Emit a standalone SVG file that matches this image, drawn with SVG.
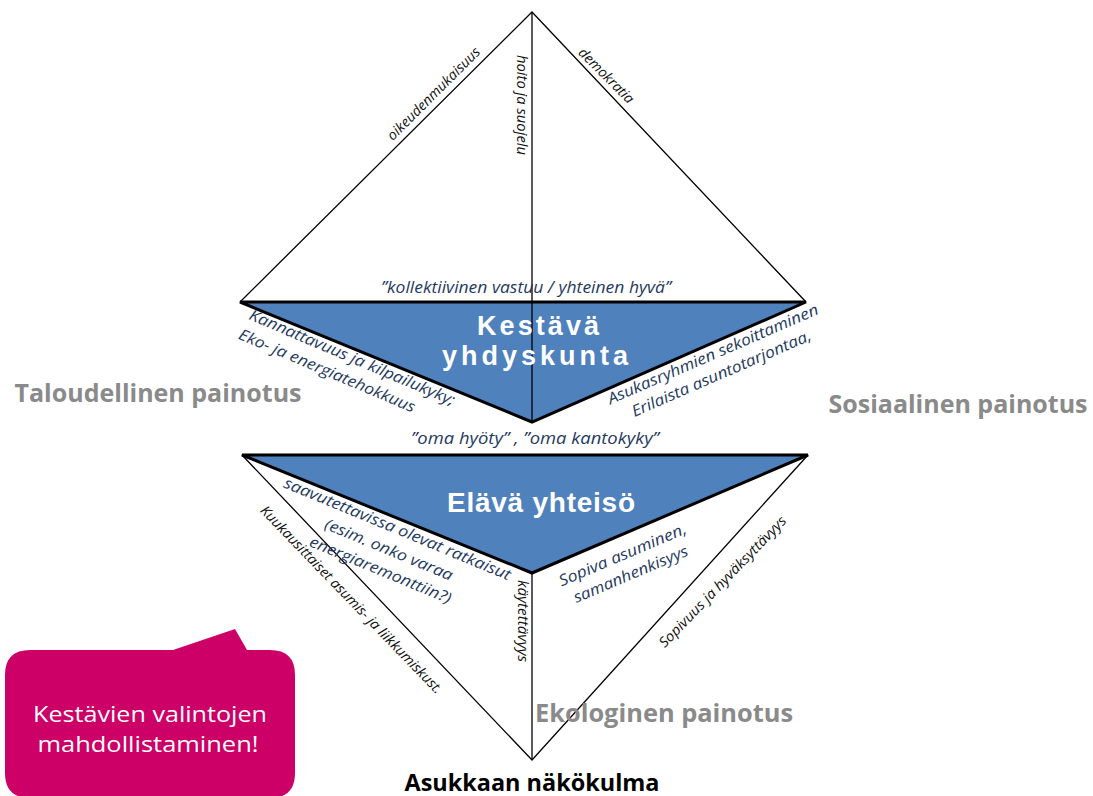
<svg xmlns="http://www.w3.org/2000/svg" width="1093" height="796" viewBox="0 0 1093 796">
<style>
.thin{stroke:#000;stroke-width:1.3;fill:none}
.tri{fill:#4F81BD;stroke:#000;stroke-width:3;stroke-linejoin:miter}
.lbl{font-family:"Open Sans","Noto Sans",sans-serif;font-style:italic;font-size:14px;fill:#111}
.blu{font-family:"Open Sans","Noto Sans",sans-serif;font-style:italic;font-size:15.5px;fill:#1F3A60}
.head{font-family:"Liberation Sans",Arial,sans-serif;font-weight:bold;fill:#fff;text-anchor:middle}
.gray{font-family:"Open Sans","Noto Sans",sans-serif;font-weight:bold;font-size:25px;fill:#8A8A8A;text-anchor:middle}
</style>
<rect width="1093" height="796" fill="#fff"/>
<g id="connectors">
<polyline class="thin" points="240,302 532,12 806,302"/>
<polyline class="thin" points="242,455 532,760 808,455"/>
</g>
<g id="upper-triangle">
<polygon class="tri" points="240,302 806,302 532,422"/>
</g>
<g id="lower-triangle">
<polygon class="tri" points="242,455 808,455 532,573"/>
</g>
<g id="axes">
<line class="thin" x1="532" y1="12" x2="532" y2="422"/>
<line class="thin" x1="532" y1="573" x2="532" y2="760"/>
</g>
<g id="top-labels">
<text class="lbl" text-anchor="middle" textLength="125" lengthAdjust="spacingAndGlyphs" transform="translate(437,97) rotate(-45)">oikeudenmukaisuus</text>
<text class="lbl" text-anchor="middle" textLength="100" lengthAdjust="spacingAndGlyphs" transform="translate(517,105) rotate(90)">hoito ja suojelu</text>
<text class="lbl" text-anchor="middle" textLength="72" lengthAdjust="spacingAndGlyphs" transform="translate(603,79) rotate(45)">demokratia</text>
<text class="blu" x="526" y="293" text-anchor="middle" textLength="290" lengthAdjust="spacingAndGlyphs">”kollektiivinen vastuu / yhteinen hyvä”</text>
</g>
<g id="kestava">
<text class="head" x="538" y="335" font-size="27" textLength="122" lengthAdjust="spacing">Kestävä</text>
<text class="head" x="535" y="365" font-size="27" textLength="186" lengthAdjust="spacing">yhdyskunta</text>
</g>
<g id="talous-labels" transform="translate(248,319) rotate(23)">
<text class="blu" x="0" y="0" textLength="222" lengthAdjust="spacingAndGlyphs">Kannattavuus ja kilpailukyky;</text>
<text class="blu" x="-2" y="22" textLength="190" lengthAdjust="spacingAndGlyphs">Eko- ja energiatehokkuus</text>
</g>
<g id="sosiaali-labels" transform="translate(715,359) rotate(-23.5)">
<text class="blu" x="0" y="0" text-anchor="middle" textLength="228" lengthAdjust="spacingAndGlyphs">Asukasryhmien sekoittaminen</text>
<text class="blu" x="0" y="21" text-anchor="middle" textLength="194" lengthAdjust="spacingAndGlyphs">Erilaista asuntotarjontaa,</text>
</g>
<g id="oma">
<text class="blu" x="535" y="444" text-anchor="middle" textLength="248" lengthAdjust="spacingAndGlyphs">”oma hyöty” , ”oma kantokyky”</text>
</g>
<g id="elava">
<text class="head" x="541" y="512" font-size="28" textLength="188" lengthAdjust="spacing">Elävä yhteisö</text>
</g>
<g id="saavutettavissa" transform="translate(395.5,533.7) rotate(22.5)">
<text class="blu" x="0" y="0" text-anchor="middle" textLength="244" lengthAdjust="spacingAndGlyphs">saavutettavissa olevat ratkaisut</text>
<text class="blu" x="0" y="22.5" text-anchor="middle" textLength="137" lengthAdjust="spacingAndGlyphs">(esim. onko varaa</text>
<text class="blu" x="0" y="44.5" text-anchor="middle" textLength="152" lengthAdjust="spacingAndGlyphs">energiaremonttiin?)</text>
</g>
<g id="sopiva" transform="translate(624.6,559.7) rotate(-23)">
<text class="blu" x="0" y="0" text-anchor="middle" textLength="137" lengthAdjust="spacingAndGlyphs">Sopiva asuminen,</text>
<text class="blu" x="0" y="21" text-anchor="middle" textLength="123" lengthAdjust="spacingAndGlyphs">samanhenkisyys</text>
</g>
<g id="bottom-labels">
<text class="lbl" font-size="13.5" text-anchor="middle" textLength="255" lengthAdjust="spacingAndGlyphs" transform="translate(348,603) rotate(46)">Kuukausittaiset asumis- ja liikkumiskust.</text>
<text class="lbl" text-anchor="middle" textLength="82" lengthAdjust="spacingAndGlyphs" transform="translate(518,621) rotate(90)">käytettävyys</text>
<text class="lbl" font-size="13.5" text-anchor="middle" textLength="176" lengthAdjust="spacingAndGlyphs" transform="translate(726,585) rotate(-46)">Sopivuus ja hyväksyttävyys</text>
</g>
<g id="painotus">
<text class="gray" x="158" y="402" textLength="287" lengthAdjust="spacingAndGlyphs">Taloudellinen painotus</text>
<text class="gray" x="958" y="413" textLength="259" lengthAdjust="spacingAndGlyphs">Sosiaalinen painotus</text>
<text class="gray" x="664" y="722" textLength="258" lengthAdjust="spacingAndGlyphs">Ekologinen painotus</text>
</g>
<g id="asukas">
<text x="532" y="791" font-family="Open Sans, Noto Sans, sans-serif" font-weight="bold" font-size="23" fill="#000" text-anchor="middle" textLength="255" lengthAdjust="spacingAndGlyphs">Asukkaan näkökulma</text>
</g>
<g id="bubble">
<path d="M30,650 H173 L235,629 L247,650 H270 Q295,650 295,675 V773 Q295,798 270,798 H30 Q5,798 5,773 V675 Q5,650 30,650 Z" fill="#CC0066"/>
<text x="150" y="722" font-family="Open Sans, Noto Sans, sans-serif" font-size="21" fill="#fff" text-anchor="middle" textLength="234" lengthAdjust="spacingAndGlyphs">Kestävien valintojen</text>
<text x="148" y="752" font-family="Open Sans, Noto Sans, sans-serif" font-size="21" fill="#fff" text-anchor="middle" textLength="221" lengthAdjust="spacingAndGlyphs">mahdollistaminen!</text>
</g>
</svg>
